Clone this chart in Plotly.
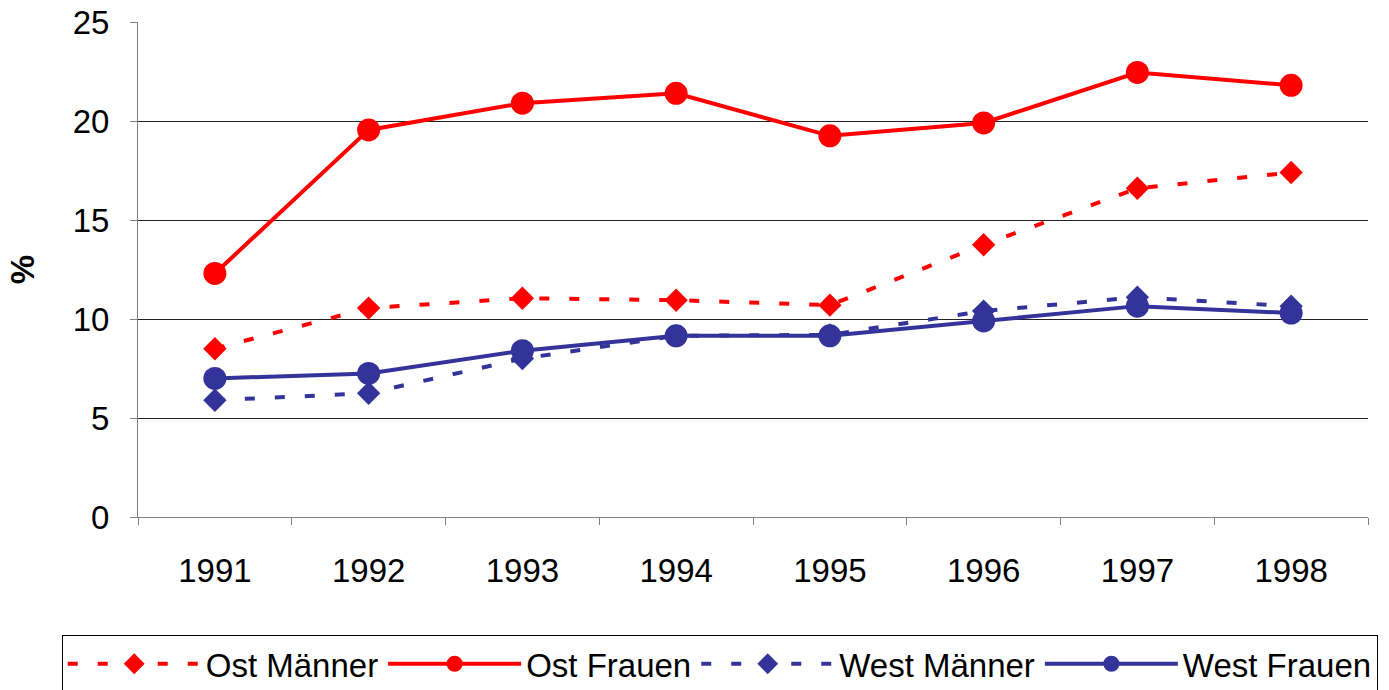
import plotly.graph_objects as go

years = ["1991", "1992", "1993", "1994", "1995", "1996", "1997", "1998"]
ost_maenner = [8.5, 10.55, 11.05, 10.95, 10.7, 13.75, 16.6, 17.4]
ost_frauen = [12.3, 19.55, 20.9, 21.4, 19.25, 19.9, 22.45, 21.8]
west_maenner = [5.9, 6.25, 8.0, 9.15, 9.2, 10.4, 11.1, 10.65]
west_frauen = [7.0, 7.25, 8.4, 9.15, 9.15, 9.9, 10.65, 10.3]

RED = "#FF0000"
BLUE = "#333399"
FONT = "Liberation Sans, Arial, sans-serif"

fig = go.Figure()
fig.add_trace(go.Scatter(x=years, y=ost_maenner, name="Ost Männer", mode="lines+markers",
                         line=dict(color=RED, width=4, dash="10px,20px"),
                         marker=dict(symbol="diamond", size=18, color=RED)))
fig.add_trace(go.Scatter(x=years, y=ost_frauen, name="Ost Frauen", mode="lines+markers",
                         line=dict(color=RED, width=4),
                         marker=dict(symbol="circle", size=23, color=RED)))
fig.add_trace(go.Scatter(x=years, y=west_maenner, name="West Männer", mode="lines+markers",
                         line=dict(color=BLUE, width=4, dash="10px,20px"),
                         marker=dict(symbol="diamond", size=18, color=BLUE)))
fig.add_trace(go.Scatter(x=years, y=west_frauen, name="West Frauen", mode="lines+markers",
                         line=dict(color=BLUE, width=4),
                         marker=dict(symbol="circle", size=23, color=BLUE)))

fig.update_layout(
    width=1389, height=690,
    margin=dict(l=138, r=21, t=22, b=173, autoexpand=False),
    paper_bgcolor="white", plot_bgcolor="white",
    font=dict(family=FONT, size=33, color="black"),
    showlegend=True,
    legend=dict(orientation="h", x=-0.062, y=-0.238, xanchor="left", yanchor="top",
                bordercolor="black", borderwidth=1, font=dict(size=33),
                itemwidth=133, tracegroupgap=0, traceorder="normal"),
    xaxis=dict(type="category", range=[-0.5, 7.5], showline=True, linecolor="#808080",
               linewidth=1, ticks="outside", tickson="boundaries", ticklen=7,
               tickcolor="#808080", showgrid=False, ticklabelstandoff=24,
               tickfont=dict(size=33), automargin=False),
    yaxis=dict(range=[0, 25], dtick=5, showline=True, linecolor="#808080", linewidth=1,
               ticks="outside", ticklen=7, tickcolor="#808080",
               showgrid=True, gridcolor="#222222", gridwidth=1, zeroline=False,
               tickfont=dict(size=33), ticklabelstandoff=14, automargin=False,
               title=dict(text="<b>%</b>", font=dict(size=33), standoff=28)),
)

fig.write_html("out.html", config={"displayModeBar": False},
               post_script="document.body.style.margin='0';")
